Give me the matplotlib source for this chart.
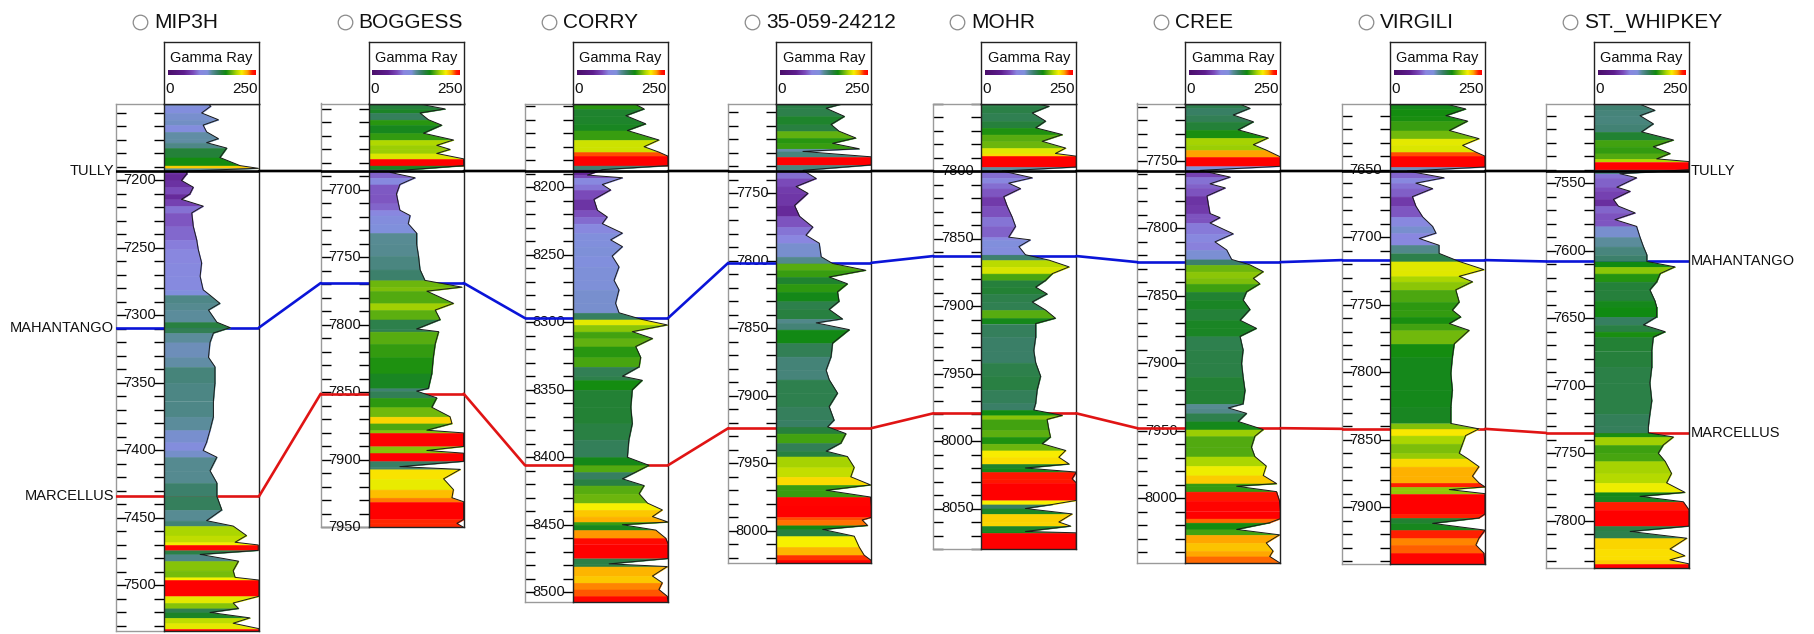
import numpy as np
import matplotlib
matplotlib.use("Agg")
import matplotlib.pyplot as plt
from matplotlib.colors import LinearSegmentedColormap, Normalize
from matplotlib.patches import ConnectionPatch
from matplotlib.lines import Line2D

plt.rcParams['font.family'] = ['Liberation Sans', 'DejaVu Sans']

# --- wells and formation tops (ft) ---
wells = ["MIP3H", "BOGGESS", "CORRY", "35-059-24212", "MOHR", "CREE", "VIRGILI", "ST._WHIPKEY"]
tully = [7193, 7686, 8188, 7733.5, 7800, 7757.5, 7651, 7541]
mahantango = [7309, 7769, 8297, 7801.5, 7863, 7825, 7717, 7608]
marcellus = [7434, 7851, 8406, 7924, 7979.5, 7948, 7842, 7735]
log_top = [7143, 7636, 8138, 7683.5, 7750, 7707.5, 7601, 7491]
log_bottom = [7534, 7950, 8507, 8024, 8080, 8048, 7942, 7835]

# --- gamma ray curves (depth ft, GR API) ---
mip3h_depth = [7142, 7145, 7150, 7155, 7159, 7164, 7169, 7172, 7176, 7183, 7189, 7191, 7193, 7195, 7200,
               7205, 7210, 7214, 7219, 7224, 7234, 7244, 7251, 7261, 7271, 7281, 7285, 7291, 7296, 7305,
               7309, 7313, 7320, 7331, 7338, 7350, 7363, 7375, 7385, 7394, 7400, 7405, 7415, 7424, 7434,
               7444, 7452, 7456, 7463, 7468, 7470, 7474, 7477, 7482, 7489, 7494, 7496, 7508, 7513, 7517,
               7520, 7524, 7528, 7532, 7534]
mip3h_gr = [112, 123, 99, 143, 103, 112, 143, 112, 165, 147, 200, 248, 60, 60, 46,
            77, 68, 46, 103, 73, 77, 86, 90, 99, 95, 103, 121, 147, 117, 139,
            174, 130, 121, 117, 134, 134, 130, 130, 121, 112, 103, 139, 121, 139, 139,
            152, 112, 182, 217, 187, 248, 248, 95, 196, 182, 187, 250, 250, 182, 196,
            121, 226, 182, 250, 250]

boggess_depth = [7636, 7640, 7643, 7648, 7652, 7658, 7663, 7667, 7670, 7673, 7677, 7682, 7685, 7687, 7691,
                 7696, 7703, 7710, 7715, 7719, 7725, 7732, 7740, 7749, 7759, 7767, 7772, 7775, 7784, 7789,
                 7796, 7803, 7805, 7814, 7824, 7836, 7847, 7849, 7854, 7861, 7868, 7873, 7878, 7880, 7890,
                 7893, 7895, 7901, 7905, 7907, 7914, 7922, 7928, 7931, 7944, 7947, 7950]
boggess_gr = [126, 201, 135, 157, 192, 144, 223, 179, 214, 179, 250, 250, 109, 56, 122,
              82, 73, 78, 82, 109, 104, 126, 126, 131, 135, 148, 245, 153, 223, 175,
              188, 126, 184, 175, 170, 166, 157, 126, 179, 166, 214, 219, 153, 250, 250,
              153, 250, 250, 82, 241, 197, 223, 219, 250, 250, 232, 250]

corry_depth = [8138, 8142, 8147, 8153, 8158, 8165, 8170, 8174, 8177, 8184, 8187, 8191, 8193, 8198, 8202,
               8209, 8217, 8222, 8227, 8234, 8239, 8244, 8251, 8259, 8269, 8276, 8286, 8293, 8298, 8302,
               8307, 8312, 8318, 8326, 8333, 8340, 8343, 8350, 8363, 8375, 8387, 8400, 8406, 8411, 8416,
               8421, 8427, 8434, 8439, 8444, 8448, 8450, 8454, 8460, 8464, 8475, 8479, 8481, 8488, 8493,
               8498, 8503, 8507]
corry_gr = [160, 187, 139, 191, 143, 226, 187, 226, 250, 250, 77, 38, 130, 77, 99,
            55, 64, 90, 77, 130, 99, 130, 103, 121, 108, 121, 112, 121, 182, 248,
            156, 209, 165, 178, 174, 130, 182, 156, 152, 156, 147, 143, 200, 165, 130,
            187, 174, 196, 235, 209, 250, 130, 218, 244, 250, 250, 95, 248, 209, 235,
            226, 248, 250]

w24212_depth = [7683, 7687, 7693, 7699, 7704, 7709, 7713, 7717, 7719, 7723, 7729, 7733, 7739, 7745, 7750,
                7759, 7767, 7775, 7781, 7787, 7797, 7802, 7807, 7812, 7817, 7823, 7830, 7836, 7843, 7846,
                7851, 7861, 7871, 7881, 7888, 7898, 7908, 7918, 7923, 7928, 7935, 7941, 7945, 7953, 7960,
                7966, 7970, 7975, 7982, 7990, 7992, 7996, 7999, 8004, 8012, 8018, 8022, 8024]
w24212_gr = [183, 131, 179, 144, 165, 209, 148, 218, 70, 250, 250, 70, 105, 52, 83,
             48, 61, 96, 78, 113, 118, 148, 235, 139, 187, 161, 165, 139, 174, 105,
             192, 148, 144, 131, 139, 161, 139, 152, 135, 183, 170, 131, 187, 205, 196,
             248, 131, 248, 250, 250, 226, 240, 122, 205, 218, 231, 250, 250]

mohr_depth = [7750, 7752, 7757, 7763, 7768, 7773, 7778, 7783, 7787, 7789, 7797, 7800, 7805, 7809, 7813,
              7819, 7826, 7834, 7841, 7849, 7851, 7856, 7862, 7866, 7871, 7876, 7881, 7886, 7891, 7897,
              7903, 7909, 7913, 7923, 7933, 7942, 7952, 7962, 7972, 7977, 7981, 7984, 7992, 7997, 8002,
              8007, 8012, 8017, 8020, 8023, 8028, 8031, 8044, 8047, 8050, 8054, 8060, 8063, 8067, 8068,
              8080]
mohr_gr = [134, 178, 134, 169, 143, 213, 160, 222, 195, 250, 250, 55, 134, 72, 103,
           59, 68, 81, 90, 72, 129, 99, 116, 178, 231, 187, 169, 143, 173, 134,
           169, 195, 143, 143, 138, 143, 156, 147, 143, 138, 213, 173, 178, 182, 160,
           222, 204, 231, 116, 250, 239, 250, 250, 187, 116, 239, 204, 235, 116, 250,
           250]

cree_depth = [7707, 7711, 7716, 7721, 7727, 7733, 7738, 7742, 7747, 7754, 7757, 7762, 7767, 7770, 7776,
              7783, 7789, 7792, 7796, 7804, 7810, 7816, 7823, 7827, 7832, 7837, 7841, 7847, 7853, 7860,
              7868, 7874, 7880, 7890, 7900, 7910, 7920, 7930, 7933, 7937, 7943, 7949, 7954, 7962, 7969,
              7976, 7983, 7989, 7991, 7995, 8002, 8009, 8015, 8018, 8023, 8027, 8033, 8039, 8043, 8048]
cree_gr = [135, 170, 126, 179, 139, 218, 179, 213, 250, 250, 39, 118, 65, 105, 57,
           61, 65, 91, 65, 126, 78, 109, 122, 170, 205, 179, 196, 161, 152, 170,
           144, 187, 144, 152, 148, 152, 157, 152, 113, 161, 139, 205, 183, 174, 183,
           213, 205, 240, 135, 240, 248, 250, 250, 222, 135, 248, 213, 231, 222, 250]

virgili_depth = [7601, 7605, 7610, 7614, 7621, 7627, 7632, 7637, 7640, 7648, 7651, 7656, 7660, 7664, 7670,
                 7677, 7685, 7692, 7697, 7701, 7706, 7712, 7718, 7724, 7729, 7733, 7739, 7748, 7754, 7759,
                 7764, 7769, 7779, 7789, 7801, 7813, 7826, 7838, 7842, 7847, 7853, 7860, 7864, 7870, 7877,
                 7882, 7885, 7887, 7890, 7905, 7908, 7912, 7917, 7923, 7928, 7934, 7942]
virgili_gr = [142, 199, 147, 204, 156, 234, 191, 226, 250, 250, 46, 142, 68, 112, 59,
              68, 86, 112, 121, 77, 129, 129, 182, 247, 182, 217, 173, 182, 164, 186,
              156, 208, 169, 164, 160, 164, 160, 160, 234, 199, 191, 182, 204, 234, 217,
              234, 250, 156, 250, 250, 234, 112, 250, 234, 226, 247, 250]

whipkey_depth = [7492, 7496, 7500, 7506, 7512, 7518, 7523, 7528, 7532, 7534, 7540, 7543, 7546, 7553, 7556,
                 7562, 7567, 7572, 7577, 7582, 7590, 7597, 7603, 7608, 7612, 7617, 7623, 7629, 7637, 7642,
                 7649, 7655, 7660, 7664, 7674, 7686, 7698, 7711, 7721, 7730, 7735, 7738, 7744, 7750, 7756,
                 7765, 7772, 7779, 7782, 7786, 7792, 7804, 7808, 7813, 7821, 7826, 7829, 7832, 7835]
whipkey_gr = [125, 160, 121, 156, 125, 209, 156, 200, 165, 250, 250, 68, 112, 60, 95,
              51, 64, 108, 55, 112, 121, 130, 139, 139, 213, 174, 165, 147, 160, 165,
              165, 130, 187, 156, 152, 152, 147, 152, 147, 143, 143, 209, 182, 169, 187,
              204, 191, 239, 121, 235, 250, 250, 95, 244, 200, 239, 200, 250, 250]

curves = [(mip3h_depth, mip3h_gr), (boggess_depth, boggess_gr), (corry_depth, corry_gr),
          (w24212_depth, w24212_gr), (mohr_depth, mohr_gr), (cree_depth, cree_gr),
          (virgili_depth, virgili_gr), (whipkey_depth, whipkey_gr)]

# gamma ray colour scale
gr_stops = [0, 45, 70, 90, 112, 125, 140, 152, 165, 180, 195, 210, 226, 240, 250]
gr_colors = ['#4b0f6b', '#5e1e8e', '#7a48b8', '#8a86e0', '#8090dc', '#5a8c98', '#3a7f68', '#26803c',
             '#108a10', '#5fb010', '#b0d800', '#f8f000', '#ffa500', '#ff2000', '#ff0000']
cmap = LinearSegmentedColormap.from_list('gr', [(s / 250, c) for s, c in zip(gr_stops, gr_colors)])
norm = Normalize(0, 250)

# --- layout (pixels) ---
W, H = 1815, 634
PX_FT = 1.35
TULLY_Y = 171
HEAD_TOP = 42
DEP_W, GR_W = 48, 95
depth_left = [116, 320.7, 525, 728.3, 933.3, 1137.3, 1342, 1546]


def rect(x0, y0, w, h):
    return [x0 / W, 1 - (y0 + h) / H, w / W, h / H]


fig = plt.figure(figsize=(W / 100, H / 100), dpi=100)
fig.patch.set_facecolor('white')

tops = [("TULLY", tully, '#000000'), ("MAHANTANGO", mahantango, '#0a14d8'), ("MARCELLUS", marcellus, '#e01414')]
dep_axes, gr_axes = [], []

for i, name in enumerate(wells):
    xl = depth_left[i]
    y0 = TULLY_Y + (log_top[i] - tully[i]) * PX_FT
    y1 = TULLY_Y + (log_bottom[i] - tully[i]) * PX_FT

    # depth track
    dax = fig.add_axes(rect(xl, y0, DEP_W, y1 - y0))
    dax.set_xlim(0, 1)
    dax.set_ylim(log_bottom[i], log_top[i])
    ticks = np.arange(np.ceil(log_top[i] / 10) * 10, log_bottom[i] + 0.1, 10)
    dax.set_yticks(ticks)
    dax.set_xticks([])
    dax.tick_params(axis='y', direction='in', length=7.5, width=1.0, left=True, right=True,
                    labelleft=False, labelright=False)
    for t, v in zip(dax.yaxis.get_major_ticks(), ticks):
        c = '#3a3a3a' if (v % 20 == 0 or v % 50 == 0) else '#bdbdbd'
        t.tick1line.set_color(c)
        t.tick2line.set_color(c)
        if v % 50 == 0 and v >= tully[i] - 20:
            dax.text(0.5, v, f"{int(v)}", transform=dax.get_yaxis_transform(), ha='center', va='center',
                     fontsize=10.5, color='#111111', zorder=3)
    for s in ['left', 'top', 'bottom']:
        dax.spines[s].set_color('#9a9a9a')
        dax.spines[s].set_linewidth(1.0)
    dax.spines['right'].set_visible(False)

    # gamma ray track
    gax = fig.add_axes(rect(xl + DEP_W, y0, GR_W, y1 - y0))
    gax.set_xlim(0, 250)
    gax.set_ylim(log_bottom[i], log_top[i])
    gax.set_xticks([])
    gax.set_yticks([])
    d, g = curves[i]
    for k in range(len(d) - 1):
        lo, hi = min(g[k], g[k + 1]), max(g[k], g[k + 1])
        col = cmap(norm(0.65 * lo + 0.35 * hi))
        gax.fill_betweenx([d[k], d[k + 1]], 0, [g[k], g[k + 1]], facecolor=col, edgecolor=col,
                          linewidth=0.4, zorder=1)
    gax.plot(g, d, color='#1a1a1a', lw=0.7, zorder=2)
    for s in gax.spines.values():
        s.set_color('#222222')
        s.set_linewidth(1.0)

    # header
    hax = fig.add_axes(rect(xl + DEP_W, HEAD_TOP, GR_W, y0 - HEAD_TOP))
    hax.set_xlim(0, 250)
    hax.set_ylim(0, 1)
    hax.set_xticks([])
    hax.set_yticks([])
    for s in hax.spines.values():
        s.set_color('#222222')
        s.set_linewidth(1.0)
    hax.imshow(np.linspace(0, 250, 256)[None, :], extent=[10, 240, 0.47, 0.54], aspect='auto',
               cmap=cmap, norm=norm)
    hax.text(125, 0.74, "Gamma Ray", ha='center', va='center', fontsize=10.5, color='#111111')
    hax.text(4, 0.24, "0", ha='left', va='center', fontsize=11, color='#111111')
    hax.text(247, 0.24, "250", ha='right', va='center', fontsize=11, color='#111111')

    # well title
    fig.add_artist(Line2D([(xl + 24) / W], [1 - 22 / H], marker='o', ms=10.5, mfc='none', mec='#8a8a8a',
                          mew=0.9, transform=fig.transFigure))
    fig.text((xl + 38) / W, 1 - 22 / H, name, ha='left', va='center', fontsize=15, color='#111111')

    # formation tops inside the well
    for label, vals, col in tops:
        z = 6 if label == "TULLY" else 0.5
        dax.axhline(vals[i], color=col, lw=1.9, zorder=4)
        gax.axhline(vals[i], color=col, lw=1.9, zorder=z)

    dep_axes.append(dax)
    gr_axes.append(gax)

# correlation lines between wells
for label, vals, col in tops:
    for i in range(len(wells) - 1):
        con = ConnectionPatch(xyA=(250, vals[i]), coordsA=gr_axes[i].transData,
                              xyB=(0, vals[i + 1]), coordsB=dep_axes[i + 1].transData,
                              color=col, lw=1.9)
        fig.add_artist(con)
    dep_axes[0].text(-0.04, vals[0], label, transform=dep_axes[0].get_yaxis_transform(),
                     ha='right', va='center', fontsize=10.5, color='#111111')
    gr_axes[-1].text(1.02, vals[-1], label, transform=gr_axes[-1].get_yaxis_transform(),
                     ha='left', va='center', fontsize=10.5, color='#111111')

fig.savefig("out.png", dpi=100, facecolor='white')
